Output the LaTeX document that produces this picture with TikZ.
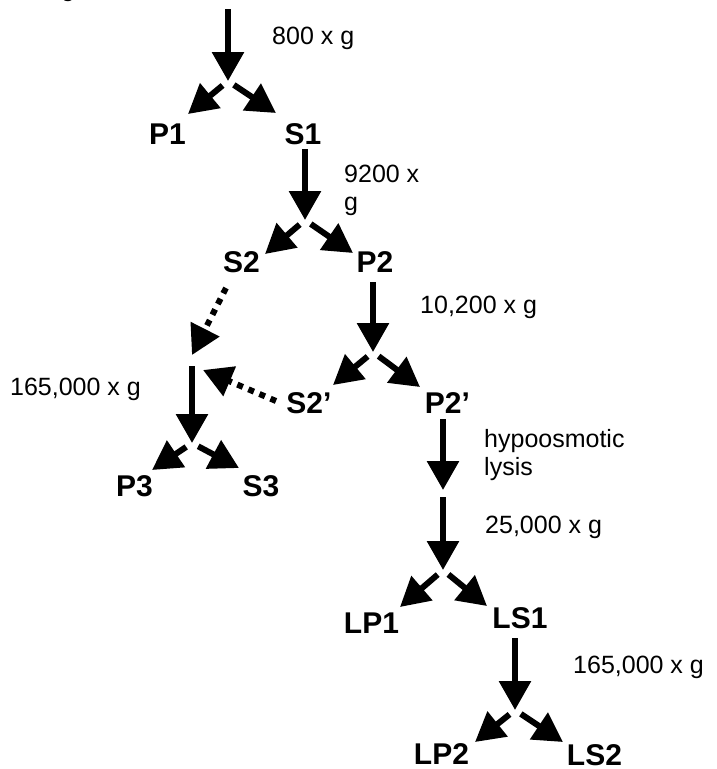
\documentclass[tikz,border=0pt]{standalone}
\usepackage{fontspec}
\setmainfont{Liberation Sans}
\usetikzlibrary{arrows.meta,calc}
\begin{document}
\begin{tikzpicture}[x=1pt,y=-1pt,
  flow/.style={line width=6pt, -{Triangle[length=29pt,width=31pt]}},
  branch/.style={flow, shorten <=7pt},
  transfer/.style={flow, dash pattern=on 6pt off 6pt},
  frac/.style={font=\fontsize{30}{33}\selectfont\bfseries, inner sep=0pt, anchor=base},
  speed/.style={font=\fontsize{25}{28}\selectfont, inner sep=0pt, anchor=base west},
]
\useasboundingbox (0,0) rectangle (717,769);

% tail of the previous caption, running off the top edge
\node[speed, anchor=base] (prev) at (68,-4) {g};

% fractions
\node[frac] (P1)  at (167.5,144) {P1};
\node[frac] (S1)  at (303,144)   {S1};
\node[frac] (S2)  at (241.5,272) {S2};
\node[frac] (P2)  at (375,272)   {P2};
\node[frac] (S2p) at (309,413)   {S2’};
\node[frac] (P2p) at (447.5,413) {P2’};
\node[frac] (P3)  at (134.5,496) {P3};
\node[frac] (S3)  at (261,496)   {S3};
\node[frac] (LP1) at (371.5,633) {LP1};
\node[frac] (LS1) at (520,628)   {LS1};
\node[frac] (LP2) at (441.5,764) {LP2};
\node[frac] (LS2) at (594.5,765) {LS2};

% centrifugation steps
\node[speed] (g1) at (272,44)  {800 x g};
\node[speed] (g2) at (344,182) {\vtop{\hbox{9200 x}\hbox{g}}};
\node[speed] (g3) at (420,313) {10,200 x g};
\node[speed] (g4) at (10,395)  {165,000 x g};
\node[speed] (g5) at (484,447) {\vtop{\hbox{hypoosmotic}\hbox{lysis}}};
\node[speed] (g6) at (485,533) {25,000 x g};
\node[speed] (g7) at (573,673) {165,000 x g};

% junctions where each spin splits into pellet and supernatant
\coordinate (feed)  at (228,9);
\coordinate (j1)    at (228,81);
\coordinate (j2)    at (305,220);
\coordinate (j3)    at (373,352);
\coordinate (pool)  at (192,366);
\coordinate (j4)    at (192,443);
\coordinate (lysed) at (443,490);
\coordinate (lysate) at (443,497);
\coordinate (j6)    at (443,570);
\coordinate (j7)    at (515,710);

% arrow tips next to each fraction
\coordinate (P1-in)  at (188,114);
\coordinate (S1-in)  at (276,113);
\coordinate (S2-in)  at (265,254);
\coordinate (P2-in)  at (353,253);
\coordinate (S2p-in) at (333,385);
\coordinate (P2p-in) at (420,387);
\coordinate (P3-in)  at (152,470);
\coordinate (S3-in)  at (239,468);
\coordinate (LP1-in) at (400,607);
\coordinate (LS1-in) at (487,606);
\coordinate (LP2-in) at (475,742);
\coordinate (LS2-in) at (563,742);

% pooled supernatants
\coordinate (S2-out)  at (226,288);
\coordinate (pool-a)  at (192,355);
\coordinate (S2p-out) at (276,401);
\coordinate (pool-b)  at (203,370);

% vertical spin arrows
\draw[flow] (feed) -- (j1);
\draw[flow] ($(S1.base -| j2)+(0,5)$) -- (j2);
\draw[flow] ($(P2.base -| j3)+(0,10)$) -- (j3);
\draw[flow] (pool) -- (j4);
\draw[flow] ($(P2p.base -| lysed)+(0,6)$) -- (lysed);
\draw[flow] (lysate) -- (j6);
\draw[flow] ($(LS1.base -| j7)+(0,10)$) -- (j7);

% pellet / supernatant branches
\draw[branch] (j1) -- (P1-in);
\draw[branch] (j1) -- (S1-in);
\draw[branch] (j2) -- (S2-in);
\draw[branch] (j2) -- (P2-in);
\draw[branch] (j3) -- (S2p-in);
\draw[branch] (j3) -- (P2p-in);
\draw[branch] (j4) -- (P3-in);
\draw[branch] (j4) -- (S3-in);
\draw[branch] (j6) -- (LP1-in);
\draw[branch] (j6) -- (LS1-in);
\draw[branch] (j7) -- (LP2-in);
\draw[branch] (j7) -- (LS2-in);

% supernatants combined for the high-speed spin
\draw[transfer] (S2-out) -- (pool-a);
\draw[transfer] (S2p-out) -- (pool-b);
\end{tikzpicture}
\end{document}
